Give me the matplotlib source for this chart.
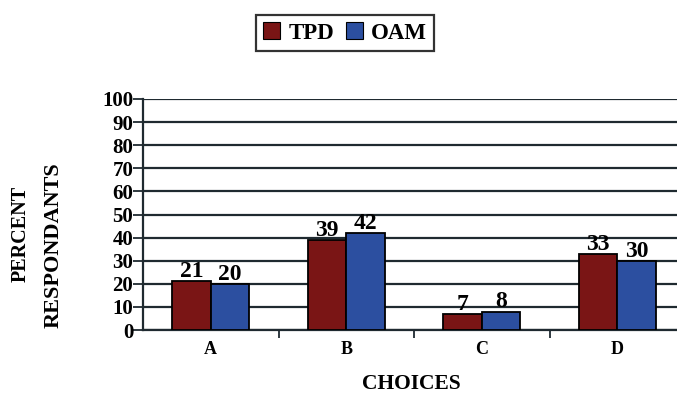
import matplotlib
matplotlib.use("Agg")
import matplotlib.pyplot as plt
import numpy as np
from matplotlib.patches import Patch

categories = ["A", "B", "C", "D"]
tpd = [21, 39, 7, 33]
oam = [20, 42, 8, 30]
series_names = ["TPD", "OAM"]
y_ticks = [0, 10, 20, 30, 40, 50, 60, 70, 80, 90, 100]

plt.rcParams["font.family"] = ["Liberation Serif", "DejaVu Serif"]
plt.rcParams["font.weight"] = "bold"

tpd_color = "#7a1515"
oam_color = "#2c4fa0"
line_color = "#1f2a30"

W, H = 677, 393
fig = plt.figure(figsize=(W / 100, H / 100), dpi=100)
# axes spans from x=143 px to 685 px (runs slightly past the right edge)
ax = fig.add_axes([143 / W, 1 - 330 / H, 542 / W, 231 / H])

x = np.arange(len(categories))
w = 0.285
b1 = ax.bar(x - w / 2, tpd, w, color=tpd_color, edgecolor="black", linewidth=1.3, zorder=3)
b2 = ax.bar(x + w / 2, oam, w, color=oam_color, edgecolor="black", linewidth=1.3, zorder=3)

for bars, vals in ((b1, tpd), (b2, oam)):
    for r, v in zip(bars, vals):
        ax.text(r.get_x() + r.get_width() / 2, v + 1.8, str(v), ha="center", va="baseline",
                fontsize=17, fontweight="bold")

ax.set_xlim(-0.5, len(categories) - 0.5)
ax.set_ylim(0, 100)
ax.set_yticks(y_ticks)
ax.set_yticklabels([str(t) for t in y_ticks], fontsize=15, fontweight="bold")
ax.tick_params(axis="y", direction="out", length=7, width=1.3, pad=0, colors=line_color,
               labelcolor="black")

ax.set_xticks(x)
ax.set_xticklabels(categories, fontsize=13, fontweight="bold")
ax.tick_params(axis="x", which="major", length=0, pad=8)
ax.set_xticks(x[:-1] + 0.5, minor=True)
ax.tick_params(axis="x", which="minor", direction="out", length=6, width=1.3, colors=line_color)

ax.yaxis.grid(True, color=line_color, linewidth=1.6, zorder=0)
ax.set_axisbelow(True)
for s in ("top", "right"):
    ax.spines[s].set_visible(False)
ax.spines["left"].set_linewidth(1.6)
ax.spines["left"].set_color(line_color)
ax.spines["bottom"].set_linewidth(1.6)
ax.spines["bottom"].set_color(line_color)

fig.text(411 / W, 1 - 384 / H, "CHOICES", ha="center", va="center",
         fontsize=15.5, fontweight="bold")

fig.text(21 / W, 1 - 234 / H, "PERCENT", rotation=90, ha="center", va="center",
         fontsize=14.5, fontweight="bold")
fig.text(54 / W, 1 - 245 / H, "RESPONDANTS", rotation=90, ha="center", va="center",
         fontsize=16, fontweight="bold")

handles = [Patch(facecolor=tpd_color, edgecolor="black", linewidth=0.8),
           Patch(facecolor=oam_color, edgecolor="black", linewidth=0.8)]
leg = fig.legend(handles, series_names, loc="center", bbox_to_anchor=(345 / W, 1 - 33 / H),
                 ncol=2, frameon=True, fancybox=False, edgecolor="black",
                 prop={"family": ["Liberation Serif"], "weight": "bold", "size": 16.5},
                 handlelength=0.75, handleheight=0.75, handletextpad=0.35, columnspacing=0.5,
                 borderpad=0.3, borderaxespad=0)
leg.get_frame().set_linewidth(1.6)

fig.savefig("out.png", dpi=100)
